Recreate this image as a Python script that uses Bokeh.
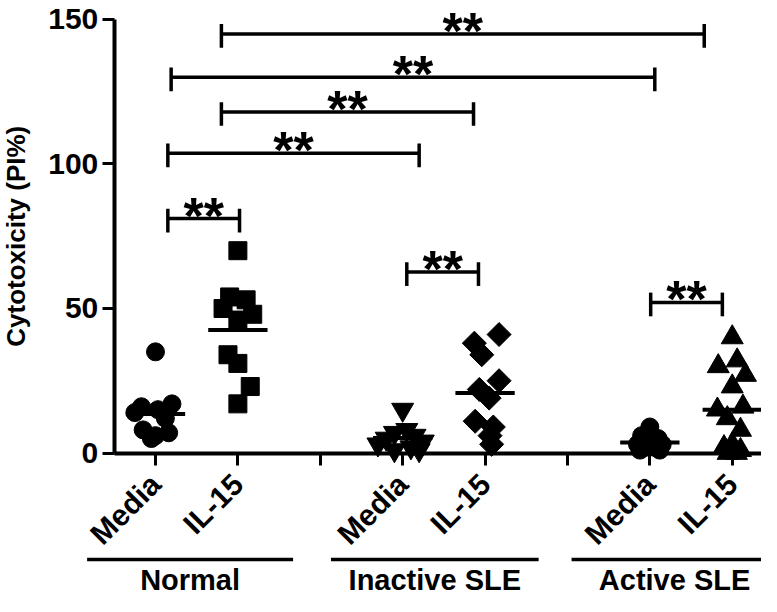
import numpy as np
from bokeh.plotting import figure
from bokeh.models import Range1d, FixedTicker, LinearAxis, ColumnDataSource
from bokeh.core.properties import value
from bokeh.embed import file_html
from bokeh.resources import INLINE

# ---------------- data ----------------
tick_positions = [1, 2, 3, 4, 5, 6, 7, 8]
tick_labels = ["Media", "IL-15", "", "Media", "IL-15", "", "Media", "IL-15"]
y_ticks = [0, 50, 100, 150]
y_title = "Cytotoxicity (PI%)"

group_names = ["Normal", "Inactive SLE", "Active SLE"]
group_line_start = [0.17, 3.13, 6.05]
group_line_end = [2.67, 5.65, 8.55]

# series (x category position, values, horizontal jitter)
normal_media_x = 1
normal_media = [35, 17, 16, 15, 14, 12, 8, 7, 6, 5]
normal_media_dx = [0.0, 0.2, -0.17, 0.03, -0.25, 0.12, -0.15, 0.16, 0.0, -0.05]

normal_il15_x = 2
normal_il15 = [70, 54, 53, 50, 48, 46, 34, 31, 23, 17]
normal_il15_dx = [0.0, -0.1, 0.1, -0.18, 0.18, 0.0, -0.12, 0.0, 0.15, 0.0]

inactive_media_x = 4
inactive_media = [15, 8, 7, 6, 5, 4, 3, 2, 1, 1]
inactive_media_dx = [0.0, 0.05, -0.1, 0.15, -0.2, 0.25, -0.3, 0.1, -0.1, 0.2]

inactive_il15_x = 5
inactive_il15 = [41, 38, 34, 25, 22, 19, 11, 9, 6, 3]
inactive_il15_dx = [0.17, -0.13, -0.04, 0.17, -0.07, 0.05, -0.12, 0.1, 0.06, 0.08]

active_media_x = 7
active_media = [9, 6, 5, 4, 3, 3, 2, 2, 1, 1]
active_media_dx = [0.0, -0.1, 0.1, 0.0, -0.15, 0.15, -0.05, 0.05, -0.12, 0.12]

active_il15_x = 8
active_il15 = [40, 32, 30, 27, 23, 16, 15, 12, 8, 3, 2, 1, 0, 0]
active_il15_dx = [0.0, 0.06, -0.17, 0.16, 0.0, 0.13, -0.18, -0.06, 0.1, 0.0, -0.1, 0.1, -0.05, 0.05]

# significance brackets
bracket_x0 = [1.80, 1.19, 1.80, 1.15, 1.15, 4.05, 7.01]
bracket_x1 = [7.66, 7.06, 4.86, 4.20, 2.02, 4.92, 7.88]
bracket_y = [145.0, 130.0, 118.0, 103.7, 81.1, 62.6, 52.1]
bracket_text = ["**"] * 7

# ---------------- figure ----------------
FONT = "Liberation Sans"
p = figure(width=761, height=596,
           x_range=Range1d(-0.881, 8.355), y_range=Range1d(-49.65, 156.57),
           output_backend="svg", toolbar_location=None,
           x_axis_type=None, y_axis_type=None,
           min_border=0, min_border_left=0, min_border_right=0,
           min_border_top=0, min_border_bottom=0)
p.outline_line_color = None
p.background_fill_color = "white"

# axes at fixed positions
xaxis = LinearAxis(fixed_location=0, bounds=(0.5, 8.5),
                   ticker=FixedTicker(ticks=tick_positions),
                   major_label_overrides={t: l for t, l in zip(tick_positions, tick_labels)})
xaxis.axis_line_width = 4
xaxis.axis_line_color = "black"
xaxis.major_tick_line_width = 3
xaxis.major_tick_out = 12
xaxis.major_tick_in = 0
xaxis.minor_tick_line_color = None
xaxis.major_label_orientation = np.pi / 4
xaxis.major_label_text_font = FONT
xaxis.major_label_text_font_style = "bold"
xaxis.major_label_text_font_size = "30px"
xaxis.major_label_text_color = "black"
xaxis.major_label_standoff = 14
p.add_layout(xaxis, "below")

yaxis = LinearAxis(fixed_location=0.5, bounds=(0, 150),
                   ticker=FixedTicker(ticks=y_ticks))
yaxis.axis_line_width = 4
yaxis.axis_line_color = "black"
yaxis.major_tick_line_width = 3
yaxis.major_tick_out = 12
yaxis.major_tick_in = 0
yaxis.minor_tick_line_color = None
yaxis.major_label_text_font = FONT
yaxis.major_label_text_font_style = "bold"
yaxis.major_label_text_font_size = "30px"
yaxis.major_label_text_color = "black"
yaxis.major_label_standoff = 4
p.add_layout(yaxis, "left")

# y title
p.text(x=[-0.687], y=[75], text=[y_title], angle=np.pi / 2,
       text_font=value(FONT), text_font_style="bold", text_font_size="26px",
       text_align="center", text_baseline="middle", text_color="black")

# series
MEAN_HALF = 0.36
series = [
    (normal_media_x, normal_media, normal_media_dx, "circle", 18, 0),
    (normal_il15_x, normal_il15, normal_il15_dx, "square", 18, 0),
    (inactive_media_x, inactive_media, inactive_media_dx, "inverted_triangle", 22, 0),
    (inactive_il15_x, inactive_il15, inactive_il15_dx, "square", 17, np.pi / 4),
    (active_media_x, active_media, active_media_dx, "circle", 18, 0),
    (active_il15_x, active_il15, active_il15_dx, "triangle", 22, 0),
]
for xc, vals, dx, marker, size, ang in series:
    src = ColumnDataSource(dict(x=[xc + d for d in dx], y=vals))
    p.scatter("x", "y", source=src, marker=marker, size=size, angle=ang,
              fill_color="black", line_color="black")
    m = float(np.mean(vals))
    p.segment(x0=[xc - MEAN_HALF], y0=[m], x1=[xc + MEAN_HALF], y1=[m],
              line_width=4, line_color="black")

# brackets
CAP_UP, CAP_DN = 3.4, 4.8
p.segment(x0=bracket_x0, y0=bracket_y, x1=bracket_x1, y1=bracket_y,
          line_width=3.5, line_color="black")
p.segment(x0=bracket_x0, y0=[y + CAP_UP for y in bracket_y],
          x1=bracket_x0, y1=[y - CAP_DN for y in bracket_y],
          line_width=3.5, line_color="black")
p.segment(x0=bracket_x1, y0=[y + CAP_UP for y in bracket_y],
          x1=bracket_x1, y1=[y - CAP_DN for y in bracket_y],
          line_width=3.5, line_color="black")
p.text(x=[(a + b) / 2 for a, b in zip(bracket_x0, bracket_x1)], y=bracket_y,
       text=bracket_text, y_offset=-3,
       text_font=value(FONT), text_font_style="bold", text_font_size="52px",
       text_align="center", text_baseline="alphabetic", text_color="black")

# group lines and labels
GROUP_LINE_Y = -36.85
GROUP_LABEL_Y = -43.77
p.segment(x0=group_line_start, y0=[GROUP_LINE_Y] * 3,
          x1=group_line_end, y1=[GROUP_LINE_Y] * 3,
          line_width=3.5, line_color="black")
p.text(x=[(a + b) / 2 for a, b in zip(group_line_start, group_line_end)],
       y=[GROUP_LABEL_Y] * 3, text=group_names,
       text_font=value(FONT), text_font_style="bold", text_font_size="29px",
       text_align="center", text_baseline="alphabetic", text_color="black")

open("out.html", "w").write(file_html(p, INLINE))
